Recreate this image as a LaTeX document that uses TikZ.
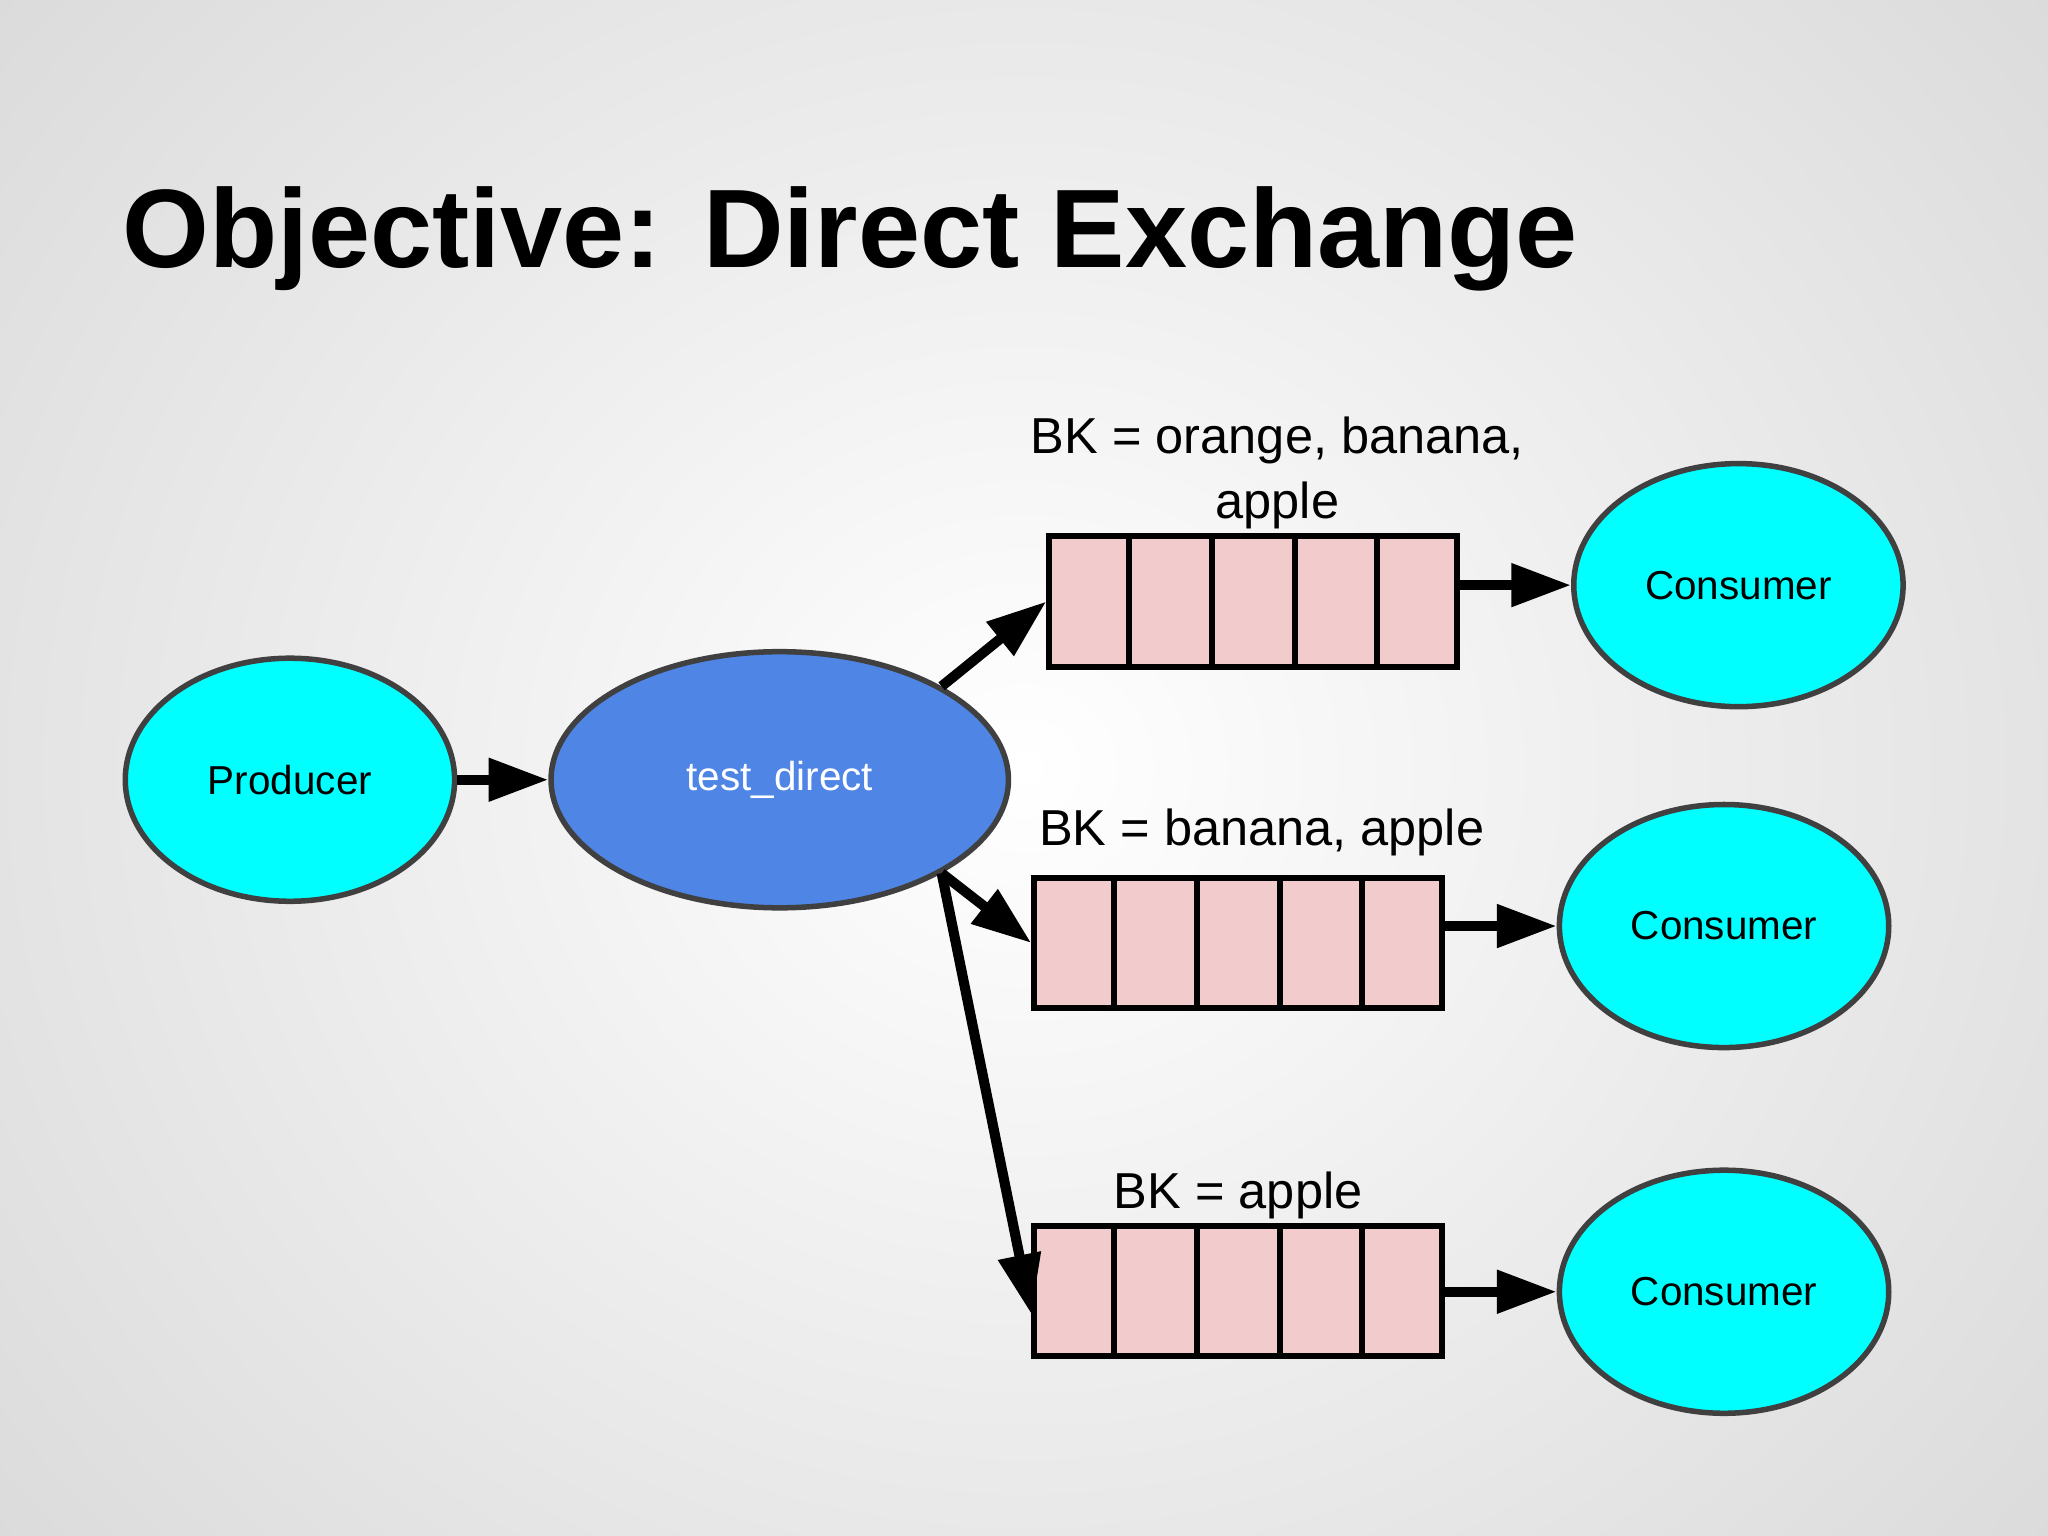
\documentclass[tikz,border=0pt]{standalone}
\usepackage{fontspec}
\setmainfont{Liberation Sans}
\usetikzlibrary{shapes.geometric,arrows.meta,calc}
\definecolor{cy}{HTML}{00FFFF}
\definecolor{ex}{HTML}{4F86E6}
\definecolor{qf}{HTML}{F2CCCC}
\begin{document}
\begin{tikzpicture}[x=0.01cm,y=-0.01cm,
  ell/.style={ellipse,draw=black!75,line width=1.2pt,inner sep=0,font=\fontsize{8.8}{10}\selectfont},
  cons/.style={ell,fill=cy,minimum width=2.52cm,minimum height=1.86cm},
  queue/.style={rectangle,draw=black,line width=1.3pt,fill=qf,minimum width=3.12cm,minimum height=1.0cm,inner sep=0},
  lbl/.style={font=\fontsize{11}{13}\selectfont,inner sep=0},
  arr/.style={line width=2.2pt,-{Triangle[length=13pt,width=9pt]}}]
\useasboundingbox (0,0) rectangle (1568,1176);
\shade[inner color=white,outer color=black!15] (-300,-400) rectangle (1868,1576);
\node[font=\bfseries\fontsize{24.3}{28}\selectfont,anchor=west,inner sep=0] (title) at (93,183) {Objective: Direct Exchange};
\node[cons] (prod) at (222,597) {Producer};
\node[ell,fill=ex,text=white,minimum width=3.5cm,minimum height=1.96cm] (ex) at (597,597) {test\_direct};
\node[cons] (c1) at (1331,448) {Consumer};
\node[cons] (c2) at (1320,709) {Consumer};
\node[cons] (c3) at (1320,989) {Consumer};
\node[queue] (q1) at (959.5,460.5) {};
\node[queue] (q2) at (948,722) {};
\node[queue] (q3) at (948,988.5) {};
\foreach \q in {q1,q2,q3}{
  \foreach \i in {1,2,3,4}{
    \draw[line width=1.3pt] ($(\q.north west)!\i/5!(\q.north east)$) -- ($(\q.south west)!\i/5!(\q.south east)$);
  }
}
\node[lbl,align=center] (l1) at (978,362) {BK = orange, banana,\\[1pt]apple};
\node[lbl] (l2) at (966,637) {BK = banana, apple};
\node[lbl] (l3) at (948,915) {BK = apple};
\draw[arr] (prod) -- (ex);
\draw[arr] (ex.30) -- (q1.west);
\draw[arr] (ex.-30) -- (q2.west);
\draw[arr] (ex.-30) -- ([yshift=-5]q3.west);
\draw[arr] (q1.east|-c1) -- (c1.west);
\draw[arr] (q2.east|-c2) -- (c2.west);
\draw[arr] (q3.east|-c3) -- (c3.west);
\end{tikzpicture}
\end{document}
